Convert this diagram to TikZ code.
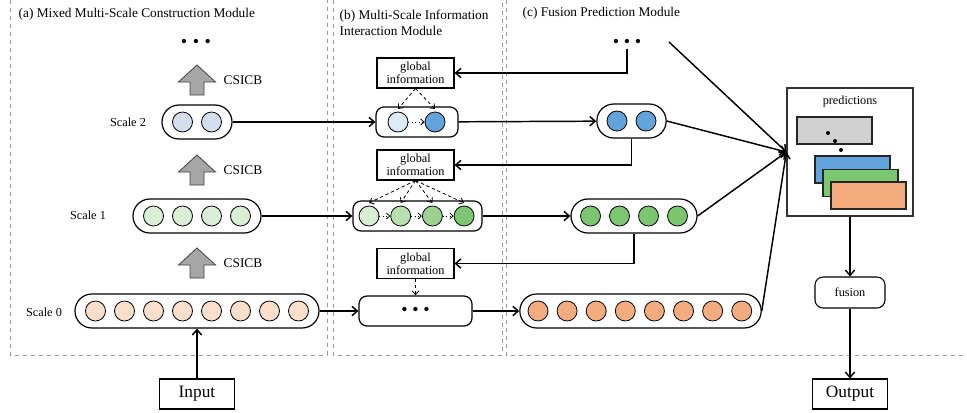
\documentclass[tikz,border=0pt]{standalone}
\usepackage{fontspec}
\setmainfont{Liberation Serif}
\usetikzlibrary{arrows.meta}

\definecolor{sblue}{HTML}{D3DEEF}
\definecolor{lblue}{HTML}{DDEBF7}
\definecolor{dblue}{HTML}{62A3DB}
\definecolor{sgreen}{HTML}{DAEED5}
\definecolor{greenA}{HTML}{D8EED2}
\definecolor{greenB}{HTML}{B9E0B0}
\definecolor{greenC}{HTML}{9BD290}
\definecolor{dgreen}{HTML}{7BC770}
\definecolor{sorange}{HTML}{FBDFCB}
\definecolor{dorange}{HTML}{F4AC7E}
\definecolor{pgray}{HTML}{D0D1D0}

\begin{document}
\begin{tikzpicture}[x=.75pt,y=-.75pt,
 panel/.style={draw=black!40,dashed,line width=.5pt},
 capsule/.style={draw=black,line width=.9pt,rounded corners=12.7pt,minimum height=25.5pt,inner sep=0pt},
 pill/.style={draw=black,line width=.9pt,rounded corners=6pt,minimum height=22.5pt,inner sep=0pt},
 bead/.style={circle,draw=black,line width=.6pt,minimum size=15pt,inner sep=0pt},
 gbox/.style={draw=black,line width=.8pt,align=center,font=\fontsize{9.2}{10}\selectfont,
              minimum width=57.75pt,minimum height=22.5pt,inner sep=1pt},
 io/.style={draw=black,line width=.8pt,font=\fontsize{13}{15}\selectfont,
            minimum width=56pt,minimum height=22.5pt,inner sep=0pt},
 sheet/.style={draw=black!85,line width=.8pt,minimum width=56.25pt,minimum height=20.25pt,inner sep=0pt},
 conn/.style={-{Straight Barb[length=4pt,width=7pt]},line width=1.1pt},
 dasharr/.style={-{Straight Barb[length=3pt,width=5pt]},line width=.6pt,dash pattern=on 2.5pt off 2pt},
 dotarr/.style={-{Straight Barb[length=2.5pt,width=4.5pt]},line width=.6pt,dotted},
 lab/.style={font=\fontsize{9.2}{11}\selectfont},
 title/.style={font=\fontsize{10}{12}\selectfont,align=left,anchor=west},
 upar/.style={draw=black!75,fill=black!35,line width=.6pt},
 dots/.style={font=\fontsize{13.5}{14}\selectfont,inner sep=1pt}]
\useasboundingbox (0,0) rectangle (967,412);

% panels
\draw[panel] (10,0) -- (10,355) -- (327,355) -- (327,0);
\draw[panel] (333,0) -- (333,355) -- (502,355) -- (502,0);
\draw[panel] (506,0) -- (506,355) -- (967,355);
\node[title] (ta) at (14,14) {(a) Mixed Multi-Scale Construction Module};
\node[title] (tb) at (335,22.5) {(b) Multi-Scale Information\\Interaction Module};
\node[title] (tc) at (518,13) {(c) Fusion Prediction Module};

% (a) scales
\node[dots] (dotsa) at (196,43) {\textbullet\hspace{4.2pt}\textbullet\hspace{4.2pt}\textbullet};
\foreach \t in {65,155,248}{
  \draw[upar] (197,\t) -- (215.5,\t+17) -- (204,\t+17) -- (204,\t+30) -- (190,\t+30)
    -- (190,\t+17) -- (178.5,\t+17) -- cycle;
  \node[lab,font=\fontsize{10}{12}\selectfont] (csicb\t) at (243,\t+15) {CSICB};
}
\node[capsule,minimum width=52.5pt] (a2) at (197,122) {};
\foreach \i in {0,1} \node[bead,fill=sblue] (a2c\i) at (182.5+29*\i,122) {};
\node[lab] (la2) at (128,122) {Scale 2};
\node[capsule,minimum width=96pt] (a1) at (197,216) {};
\foreach \i in {0,...,3} \node[bead,fill=sgreen] (a1c\i) at (153.5+29*\i,216) {};
\node[lab] (la1) at (88,215) {Scale 1};
\node[capsule,minimum width=183pt] (a0) at (197,311) {};
\foreach \i in {0,...,7} \node[bead,fill=sorange] (a0c\i) at (95.5+29*\i,311) {};
\node[lab] (la0) at (44,312) {Scale 0};

\node[io] (input) at (197,394) {Input};
\draw[conn] (input) -- (a0);

% (b) interaction
\node[gbox] (gi1) at (415.5,73) {global\\information};
\node[pill,minimum width=61.5pt] (b2) at (417,122) {};
\node[bead,fill=lblue] (b2c0) at (398,122) {};
\node[bead,fill=dblue] (b2c1) at (435,122) {};
\draw[dotarr] (b2c0) -- (b2c1);
\foreach \i in {0,1} \draw[dasharr] (gi1.south) -- ([yshift=2pt]b2c\i.north);

\node[gbox] (gi2) at (415.5,165) {global\\information};
\node[pill,minimum width=96.75pt] (b1) at (417.5,216) {};
\foreach \i/\c in {0/greenA,1/greenB,2/greenC,3/dgreen}
  \node[bead,fill=\c] (b1c\i) at (369+31.7*\i,216) {};
\draw[dotarr] (b1c0) -- (b1c1);
\draw[dotarr] (b1c1) -- (b1c2);
\draw[dotarr] (b1c2) -- (b1c3);
\foreach \i in {0,...,3} \draw[dasharr] (gi2.south) -- ([yshift=2pt]b1c\i.north);

\node[gbox] (gi3) at (415.5,263.5) {global\\information};
\node[pill,minimum width=84.75pt,dots,inner sep=0pt] (b0) at (415.5,311) {\textbullet\hspace{3.5pt}\textbullet\hspace{3.5pt}\textbullet};
\draw[dasharr] (gi3) -- (b0);

\draw[conn] (a2) -- (b2);
\draw[conn] (a1) -- (b1);
\draw[conn] (a0) -- (b0);

% (c) fusion prediction
\node[dots] (dotsc) at (627,43) {\textbullet\hspace{3.5pt}\textbullet\hspace{3.5pt}\textbullet};
\coordinate (more) at (669,42);
\node[capsule,minimum width=52pt] (c2) at (631.5,121) {};
\foreach \i in {0,1} \node[bead,fill=dblue] (c2c\i) at (617+29*\i,121) {};
\node[capsule,minimum width=94.5pt] (c1) at (634,216) {};
\foreach \i in {0,...,3} \node[bead,fill=dgreen] (c1c\i) at (590.5+29*\i,216) {};
\node[capsule,minimum width=181pt] (c0) at (640.5,311) {};
\foreach \i in {0,...,7} \node[bead,fill=dorange] (c0c\i) at (538+29.1*\i,311) {};

\draw[conn] (b2) -- (c2);
\draw[conn] (b1) -- (c1);
\draw[conn] (b0) -- (c0);
\draw[conn] (dotsc.south) |- (gi1);
\draw[conn] (c2.south) |- (gi2);
\draw[conn] (c1.south) |- (gi3);

\node[draw=black!80,line width=.9pt,minimum width=94.5pt,minimum height=96pt,inner sep=0pt] (pred) at (850,152) {};
\node[lab] (plab) at (850,102) {predictions};
\node[sheet,fill=pgray] (sgray) at (834.5,130.5) {};
\fill (828,133) circle (1.5pt) (835,141) circle (1.5pt) (841,150) circle (1.5pt);
\node[sheet,fill=dblue] (sblue) at (852.5,169.5) {};
\node[sheet,fill=dgreen] (sgreen) at (860.5,183) {};
\node[sheet,fill=dorange] (sorange) at (868.5,195.5) {};

\draw[conn] (more) -- (pred.west);
\draw[conn] (c2.east) -- (pred.west);
\draw[conn] (c1.east) -- (pred.west);
\draw[conn] (c0.east) -- (pred.west);

\node[pill,lab,minimum width=52.5pt,minimum height=23.25pt,line width=.8pt] (fusion) at (850,292.5) {fusion};
\node[io] (output) at (850,394) {Output};
\draw[conn] (pred) -- (fusion);
\draw[conn] (fusion) -- (output);
\end{tikzpicture}
\end{document}
